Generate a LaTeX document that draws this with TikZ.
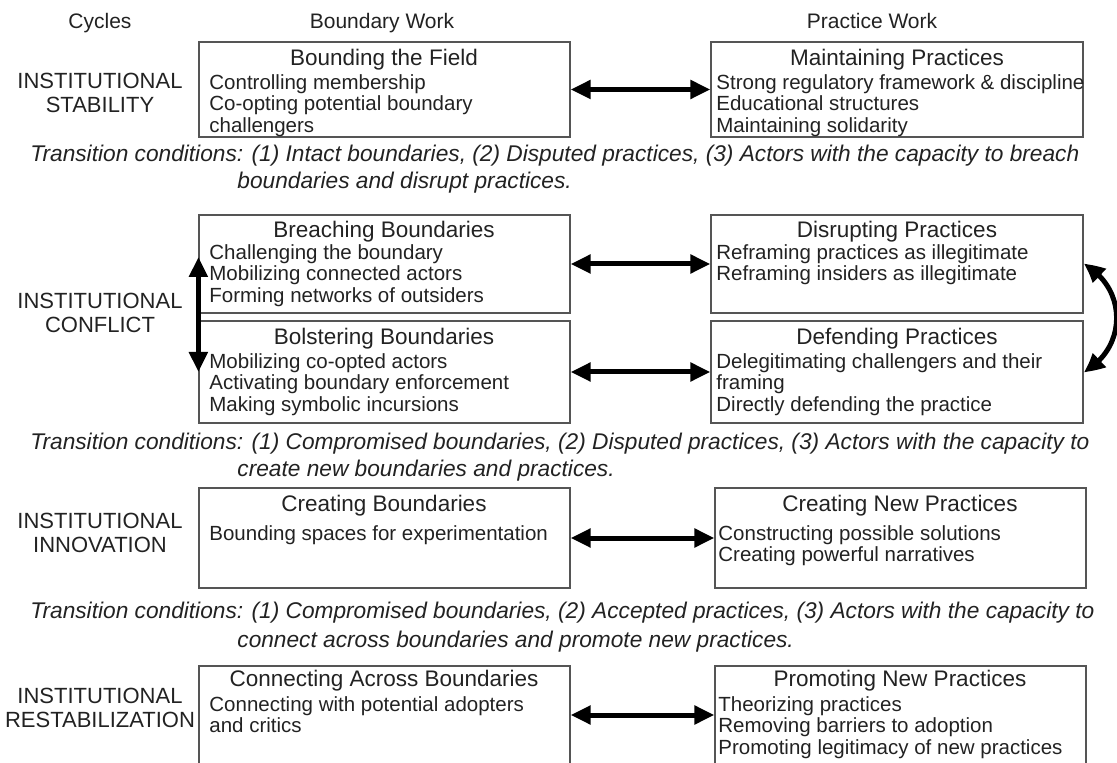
\documentclass[tikz,border=0pt]{standalone}
\usepackage{fontspec}
\setmainfont{Liberation Sans}
\usetikzlibrary{arrows.meta,bending,fit,calc}
\definecolor{txt}{HTML}{222222}
\definecolor{edge}{HTML}{555555}
\begin{document}
\begin{tikzpicture}[x=0.5pt,y=-0.5pt,
  box/.style={draw=edge, line width=0.6pt, inner sep=0pt},
  ttl/.style={anchor=base, inner sep=0pt, text=txt, font=\fontsize{11.25pt}{13pt}\selectfont},
  hdr/.style={anchor=base, inner sep=0pt, text=txt, font=\fontsize{10.5pt}{12pt}\selectfont},
  items/.style={anchor=north west, inner sep=0pt, align=left, text=txt, font=\fontsize{10.25pt}{10.75pt}\selectfont},
  cyc/.style={anchor=north, inner sep=0pt, align=center, text=txt, font=\fontsize{11pt}{12pt}\selectfont},
  trans/.style={anchor=base west, inner sep=0pt, text=txt, font=\fontsize{11.35pt}{13pt}\selectfont\itshape},
  dbl/.style={{Triangle[length=10pt,width=9pt]}-{Triangle[length=10pt,width=9pt]}, line width=2.5pt, black},
  cdbl/.style={{Triangle[length=10pt,width=9pt,bend]}-{Triangle[length=10pt,width=9pt,bend]}, line width=2.5pt, black}
]
\useasboundingbox (0,0) rectangle (1117,763);

% headers
\node[hdr] (hc) at (100,29) {Cycles};
\node[hdr] (hb) at (382,29) {Boundary Work};
\node[hdr] (hp) at (872,29) {Practice Work};

% cycle labels
\node[cyc] (c1) at (100,71.2) {\strut INSTITUTIONAL\\\strut STABILITY};
\node[cyc] (c2) at (100,291.2) {\strut INSTITUTIONAL\\\strut CONFLICT};
\node[cyc] (c3) at (100,511.2) {\strut INSTITUTIONAL\\\strut INNOVATION};
\node[cyc] (c4) at (100,686.2) {\strut INSTITUTIONAL\\\strut RESTABILIZATION};

% boxes
\node[box, fit={(199,42) (570,137)}] (L1) {};
\node[box, fit={(711,42) (1083,137)}] (R1) {};
\node[box, fit={(199,215) (570,313)}] (L2) {};
\node[box, fit={(711,215) (1083,313)}] (R2) {};
\node[box, fit={(199,321) (570,423)}] (L3) {};
\node[box, fit={(711,321) (1083,423)}] (R3) {};
\node[box, fit={(199,488) (570,588)}] (L4) {};
\node[box, fit={(715,488) (1086,588)}] (R4) {};
\node[box, fit={(199,666) (570,764)}] (L5) {};
\node[box, fit={(715,666) (1086,764)}] (R5) {};

% row 1
\node[ttl] (tL1) at (384,66) {Bounding the Field};
\node[items] (iL1) at (209,74) {\strut Controlling membership\\\strut Co-opting potential boundary\\\strut challengers};
\node[ttl] (tR1) at (897,66) {Maintaining Practices};
\node[items] (iR1) at (716,74) {\strut Strong regulatory framework \& discipline\\\strut Educational structures\\\strut Maintaining solidarity};

\node[trans] (tr1a) at (30,162) {Transition conditions: (1) Intact boundaries, (2) Disputed practices, (3) Actors with the capacity to breach};
\node[trans] (tr1b) at (237,189) {boundaries and disrupt practices.};

% row 2
\node[ttl] (tL2) at (384,238) {Breaching Boundaries};
\node[items] (iL2) at (209,244) {\strut Challenging the boundary\\\strut Mobilizing connected actors\\\strut Forming networks of outsiders};
\node[ttl] (tR2) at (897,238) {Disrupting Practices};
\node[items] (iR2) at (716,244) {\strut Reframing practices as illegitimate\\\strut Reframing insiders as illegitimate};
\node[ttl] (tL3) at (384,345) {Bolstering Boundaries};
\node[items] (iL3) at (209,353) {\strut Mobilizing co-opted actors\\\strut Activating boundary enforcement\\\strut Making symbolic incursions};
\node[ttl] (tR3) at (897,345) {Defending Practices};
\node[items] (iR3) at (716,353) {\strut Delegitimating challengers and their\\\strut framing\\\strut Directly defending the practice};

\node[trans] (tr2a) at (30,450) {Transition conditions: (1) Compromised boundaries, (2) Disputed practices, (3) Actors with the capacity to};
\node[trans] (tr2b) at (237,477) {create new boundaries and practices.};

% row 3
\node[ttl] (tL4) at (384,511) {Creating Boundaries};
\node[items] (iL4) at (209,525) {\strut Bounding spaces for experimentation};
\node[ttl] (tR4) at (900,511) {Creating New Practices};
\node[items] (iR4) at (718,525) {\strut Constructing possible solutions\\\strut Creating powerful narratives};

\node[trans] (tr3a) at (30,618) {Transition conditions: (1) Compromised boundaries, (2) Accepted practices, (3) Actors with the capacity to};
\node[trans] (tr3b) at (237,647) {connect across boundaries and promote new practices.};

% row 4
\node[ttl] (tL5) at (384,686) {Connecting Across Boundaries};
\node[items] (iL5) at (209,696) {\strut Connecting with potential adopters\\\strut and critics};
\node[ttl] (tR5) at (900,686) {Promoting New Practices};
\node[items] (iR5) at (718,696) {\strut Theorizing practices\\\strut Removing barriers to adoption\\\strut Promoting legitimacy of new practices};

% connectors
\draw[dbl] (L1) -- (R1);
\draw[dbl] (L2) -- (R2);
\draw[dbl] (L3) -- (R3);
\draw[dbl] (L4) -- (R4);
\draw[dbl] (L5.east |- 0,715) coordinate (a5) -- (R5.west |- a5);
\draw[dbl] ([yshift=3.5pt]L2.west) -- (L3.west);
\draw[cdbl] (R2.east) .. controls +(22pt,-12pt) and +(22pt,12pt) .. (R3.east);
\end{tikzpicture}
\end{document}
